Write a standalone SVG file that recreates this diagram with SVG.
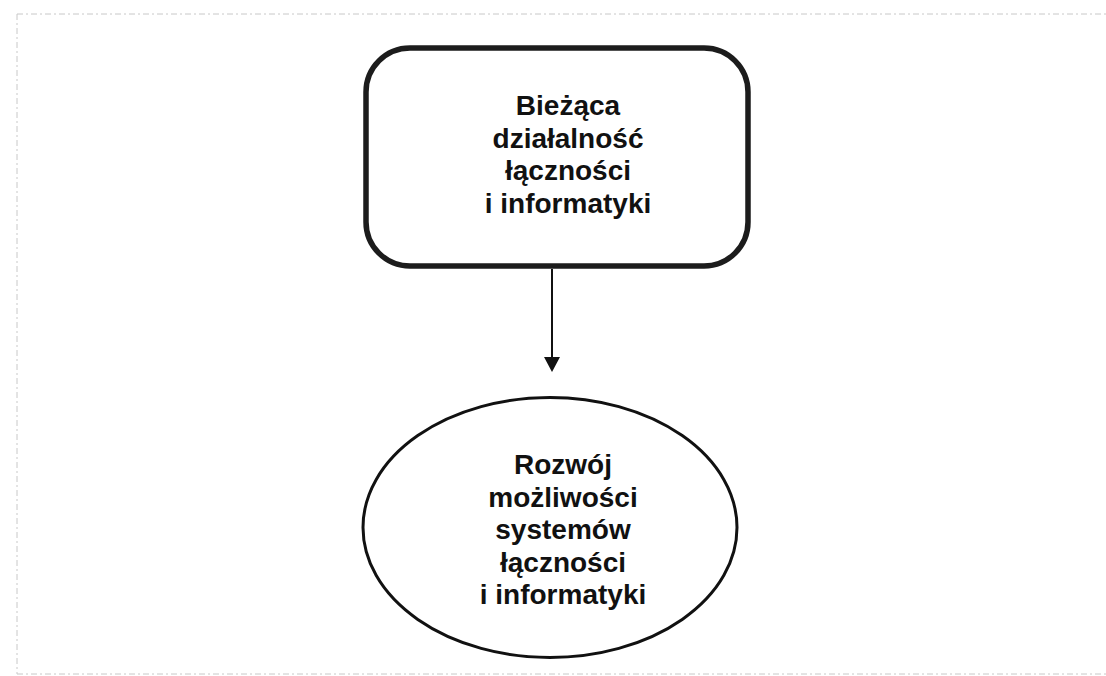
<svg xmlns="http://www.w3.org/2000/svg" width="1106" height="676" viewBox="0 0 1106 676">
  <style>
    .frame { stroke: #c8c8c8; stroke-width: 1; stroke-dasharray: 6 3 2 3; fill: none; }
    .label { font-family: "Liberation Sans", Arial, sans-serif; font-size: 28px; font-weight: bold; fill: #111; text-anchor: middle; }
    .box { fill: #fff; stroke: #1c1c1c; stroke-width: 5.5; }
    .oval { fill: #fff; stroke: #111; stroke-width: 3; }
    .link { stroke: #111; stroke-width: 2; fill: none; }
  </style>
  <defs>
    <!-- triangular head drawn along +x so orient="auto" points it down the line -->
    <marker id="arrow" markerWidth="16" markerHeight="18" refX="3" refY="9" orient="auto" markerUnits="userSpaceOnUse" viewBox="0 0 16 18">
      <path d="M0,1 L15,9 L0,17 Z" fill="#111"/>
    </marker>
  </defs>
  <rect width="1106" height="676" fill="#fff"/>

  <!-- page frame -->
  <g id="frame">
    <line class="frame" x1="17" y1="14" x2="1106" y2="14"/>
    <line class="frame" x1="17" y1="14" x2="17" y2="674"/>
    <line class="frame" x1="17" y1="674" x2="1106" y2="674"/>
  </g>

  <!-- connectors -->
  <g id="connectors">
    <line class="link" x1="552" y1="269" x2="552" y2="360" marker-end="url(#arrow)"/>
  </g>

  <g id="node-biezaca">
    <rect class="box" x="366" y="48" width="382" height="218" rx="44" ry="44"/>
    <text class="label" x="568" y="115">Bieżąca</text>
    <text class="label" x="568" y="147.5">działalność</text>
    <text class="label" x="568" y="180">łączności</text>
    <text class="label" x="568" y="212.5">i informatyki</text>
  </g>

  <g id="node-rozwoj">
    <ellipse class="oval" cx="550" cy="527.5" rx="187" ry="130"/>
    <text class="label" x="563" y="474">Rozwój</text>
    <text class="label" x="563" y="506.5">możliwości</text>
    <text class="label" x="563" y="539">systemów</text>
    <text class="label" x="563" y="571.5">łączności</text>
    <text class="label" x="563" y="604">i informatyki</text>
  </g>
</svg>
